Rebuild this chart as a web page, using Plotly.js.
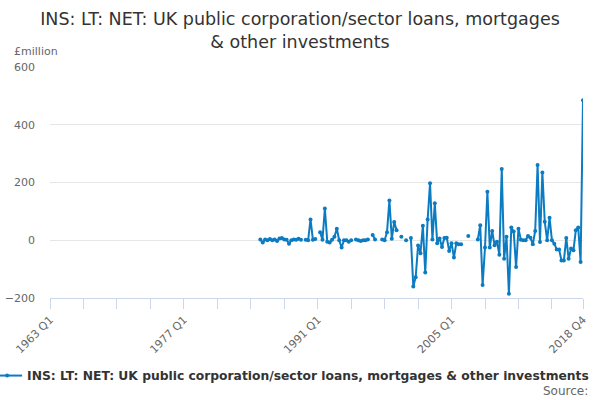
<!DOCTYPE html>
<html>
<head>
<meta charset="utf-8">
<script src="https://cdn.plot.ly/plotly-3.0.1.min.js"></script>
<style>
  html, body { margin: 0; padding: 0; background: #fff; }
  #chart { width: 600px; height: 400px; }
</style>
</head>
<body>
<div id="chart"></div>
<script>
'use strict';

// Quarter labels 1963 Q1 .. 2018 Q4
const startYear = 1963;
const endYear = 2018;
const quarters = [];
for (let y = startYear; y <= endYear; y++) {
    for (let q = 1; q <= 4; q++) {
        quarters.push(y + ' Q' + q);
    }
}

// Series starts here, earlier quarters have no data
const firstQuarter = '1985 Q1';

// £million, 1985 Q1 .. 2018 Q4 (null = no value)
const values = [
    3, -8, 3, 0, 4, 0, 3, -3, 6, 8, 3, 2, -12, 0, 3, 2,
    5, 2, null, 2, 0, 72, 2, 4, null, 28, 2, 110,
    -5, -8, 2, 12, 40, 0, -25, 0, 0, -5, 0,
    null, 3, 0, -3, 0, 0, 3,
    null, 18, 3, null, null, 3, 0, 28, 138, 5, 63, 35,
    null, 12, null, 0, null, 8,
    -160, -128, -18, -45, 50, -112, 72, 197, 3, 128,
    -10, 6, -23, 8, 9, -37, -10, -60, -10, -14, -14,
    null, null, 15, null, null, null,
    3, 52, -155, -25, 168, -25, 32, -17, -5, -50,
    247, -64, 12, -185, 44, 30, -93, 40, 2, 0,
    0, 15, 9, -14, 32, 261, -6, 235, 64, 0,
    78, 0, -12, -32, -32, -70, -70, 8, -64, -29,
    -35, 35, 44, -75, 485
];

const tickLabels = ['1963 Q1', '1977 Q1', '1991 Q1', '2005 Q1', '2018 Q4'];

const seriesName = 'INS: LT: NET: UK public corporation/sector loans, mortgages & other investments';

function padSeries(all, first, vals) {
    let offset = all.indexOf(first);
    let arr = [];
    for (let i = 0; i < all.length; i++) {
        if (i < offset || i - offset >= vals.length) {
            arr.push(null);
        } else {
            arr.push(vals[i - offset]);
        }
    }
    return arr;
}

// tick every 14 quarters plus the last one, label only some of them
let tickvals = [];
let ticktext = [];
for (let i = 0; i < quarters.length; i += 14) {
    tickvals.push(quarters[i]);
}
tickvals.push(quarters[quarters.length - 1]);
for (let t of tickvals) {
    ticktext.push(tickLabels.includes(t) ? t : '');
}

const lineColor = '#0b7bc2';
const font = 'DejaVu Sans, sans-serif';

let trace = {
    x: quarters,
    y: padSeries(quarters, firstQuarter, values),
    name: seriesName,
    type: 'scatter',
    mode: 'lines+markers',
    line: { color: lineColor, width: 2 },
    marker: { color: lineColor, size: 4 },
    connectgaps: false
};

let layout = {
    width: 600,
    height: 400,
    margin: { l: 50, r: 17, t: 67, b: 102, autoexpand: false },
    paper_bgcolor: '#ffffff',
    plot_bgcolor: '#ffffff',
    font: { family: font, color: '#666666', size: 11 },
    title: {
        text: 'INS: LT: NET: UK public corporation/sector loans, mortgages<br>& other investments',
        font: { family: font, size: 17.5, color: '#333333' },
        x: 0.5,
        xanchor: 'center',
        y: 0.9375,
        yanchor: 'top'
    },
    xaxis: {
        type: 'category',
        range: [0, quarters.length - 1],
        tickmode: 'array',
        tickvals: tickvals,
        ticktext: ticktext,
        tickangle: -45,
        ticks: 'outside',
        ticklen: 10,
        tickcolor: '#ccd6eb',
        showline: true,
        linecolor: '#ccd6eb',
        linewidth: 1,
        showgrid: false,
        zeroline: false,
        tickfont: { family: font, size: 11, color: '#666666' }
    },
    yaxis: {
        range: [-200, 600],
        tickvals: [-200, 0, 200, 400, 600],
        showgrid: true,
        gridcolor: '#e6e6e6',
        zeroline: false,
        showline: false,
        ticks: '',
        ticklabelstandoff: 14,
        tickfont: { family: font, size: 11, color: '#666666' }
    },
    showlegend: true,
    legend: {
        orientation: 'h',
        x: -0.118,
        xanchor: 'left',
        y: -0.273,
        yanchor: 'top',
        font: { family: font, size: 12.3, color: '#333333', weight: 'bold' },
        itemwidth: 30
    },
    annotations: [
        {
            text: '£million',
            xref: 'paper', yref: 'paper',
            x: -0.0713, y: 1.065,
            xanchor: 'left', yanchor: 'middle',
            showarrow: false,
            font: { family: font, size: 11, color: '#666666' }
        },
        {
            text: 'Source:',
            xref: 'paper', yref: 'paper',
            x: 1.013, y: -0.4026,
            xanchor: 'right', yanchor: 'middle',
            showarrow: false,
            font: { family: font, size: 12, color: '#666666' }
        }
    ]
};

let config = {
    displayModeBar: false,
    responsive: false
};

Plotly.newPlot('chart', [trace], layout, config);
</script>
</body>
</html>
